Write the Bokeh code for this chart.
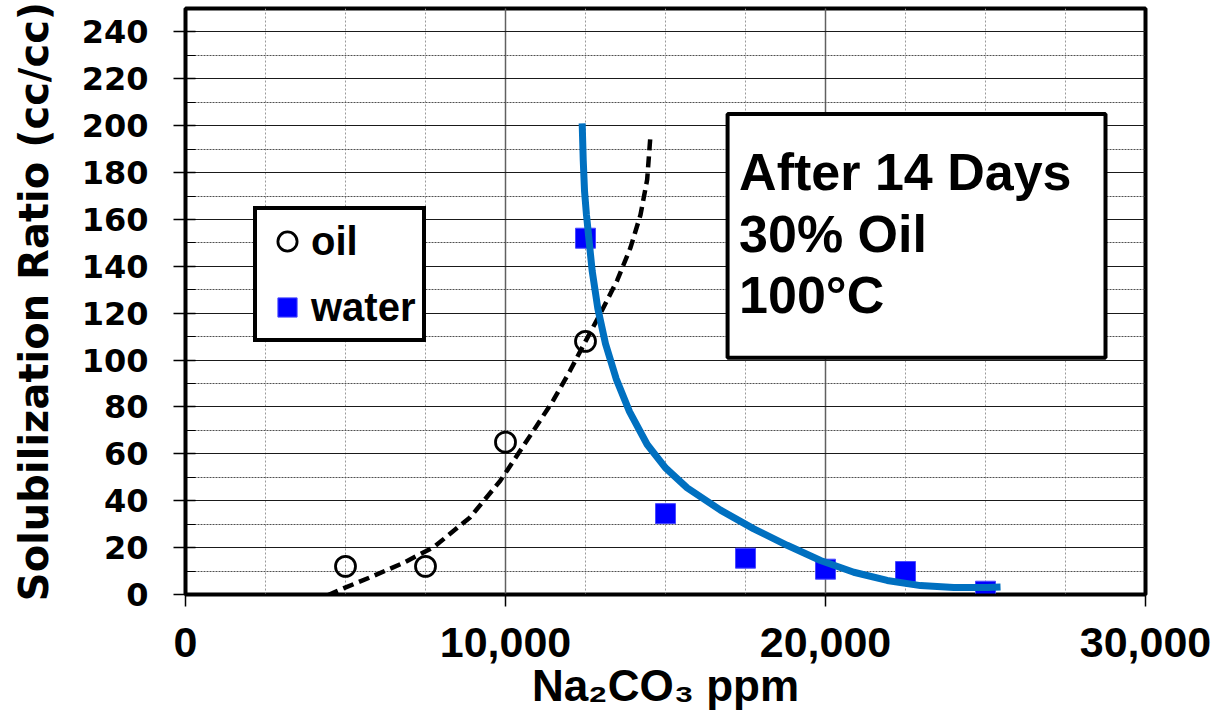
from bokeh.plotting import figure
from bokeh.models import (Range1d, SingleIntervalTicker, NumeralTickFormatter,
                          Legend, LegendItem, BoxAnnotation, Label, ColumnDataSource)
from bokeh.embed import file_html
from bokeh.resources import INLINE

# ---- data ----
oil_x = [5000, 7500, 10000, 12500]
oil_y = [12, 12, 65, 108]

water_x = [12500, 15000, 17500, 20000, 22500, 25000]
water_y = [152, 34.5, 15.5, 10.8, 9.8, 1.4]

oil_trend_x = [3960, 4740, 5800, 6810, 7760, 8900, 9840, 10880, 11500, 12000,
               12500, 12970, 13490, 13906, 14219, 14427, 14531]
oil_trend_y = [-3.3, 1.5, 7.5, 13.5, 20.2, 33, 48.6, 70, 83, 95,
               108, 120, 134, 148, 162, 177, 196]

water_trend_x = [12396, 12430, 12470, 12530, 12604, 12709, 12885, 13125, 13459,
                 13875, 14427, 15000, 15677, 16719, 17760, 18802, 19844, 20885,
                 21927, 22969, 24010, 25052, 25470]
water_trend_y = [201, 185, 172, 162, 152, 138, 122, 107, 92,
                 78, 64, 54, 45.5, 36, 28, 21, 14.5, 9.5,
                 6, 3.8, 3.0, 3.0, 3.2]

x_title = "Na\u2082CO\u2083 ppm"
y_title = "Solubilization Ratio (cc/cc)"
series_names = ["oil", "water"]
note_lines = ["After 14 Days", "30% Oil", "100\u00b0C"]

# ---- figure ----
p = figure(width=1225, height=723, output_backend="svg", toolbar_location=None,
           x_range=Range1d(0, 30000), y_range=Range1d(0, 250),
           min_border_left=185, min_border_right=80, min_border_top=8,
           min_border_bottom=129)
p.background_fill_color = "white"
p.border_fill_color = "white"
p.outline_line_color = "black"
p.outline_line_width = 4
p.outline_line_alpha = 1

xt = SingleIntervalTicker(interval=10000, num_minor_ticks=4)
yt = SingleIntervalTicker(interval=20, num_minor_ticks=2)
p.xaxis.ticker = xt
p.yaxis.ticker = yt
p.xgrid.ticker = xt
p.ygrid.ticker = yt

p.xgrid.grid_line_color = "#606060"
p.xgrid.grid_line_width = 1.5
p.xgrid.grid_line_alpha = 1
p.xgrid.minor_grid_line_color = "#9a9a9a"
p.xgrid.minor_grid_line_dash = "2 2"
p.xgrid.minor_grid_line_width = 1
p.ygrid.grid_line_color = "#1a1a1a"
p.ygrid.grid_line_width = 1.2
p.ygrid.grid_line_alpha = 1
p.ygrid.minor_grid_line_color = "#505050"
p.ygrid.minor_grid_line_dash = "2 1"
p.ygrid.minor_grid_line_width = 1

p.xaxis.formatter = NumeralTickFormatter(format="0,0")
for ax in (p.xaxis, p.yaxis):
    ax.axis_line_color = "black"
    ax.axis_line_width = 2
    ax.major_tick_line_color = "black"
    ax.major_tick_line_width = 1.5
    ax.major_tick_out = 12
    ax.major_label_text_font_style = "bold"
    ax.major_label_text_color = "black"
    ax.axis_label_text_font_style = "bold"
    ax.axis_label_text_color = "black"

p.xaxis.major_tick_in = 0
p.xaxis.minor_tick_line_color = None
p.xaxis.major_label_text_font = "Liberation Sans"
p.xaxis.major_label_text_font_size = "43px"
p.xaxis.major_label_standoff = 21
p.xaxis.axis_label = x_title
p.xaxis.axis_label_text_font = "Liberation Sans"
p.xaxis.axis_label_text_font_size = "44px"
p.xaxis.axis_label_standoff = 1

p.yaxis.major_tick_in = 10
p.yaxis.minor_tick_in = 10
p.yaxis.minor_tick_out = 0
p.yaxis.minor_tick_line_color = "black"
p.yaxis.major_label_text_font = "DejaVu Sans"
p.yaxis.major_label_text_font_size = "32px"
p.yaxis.major_label_standoff = 25
p.yaxis.axis_label = y_title
p.yaxis.axis_label_text_font = "DejaVu Sans"
p.yaxis.axis_label_text_font_size = "40px"
p.yaxis.axis_label_standoff = 22

# ---- glyphs ----
oil_src = ColumnDataSource(dict(x=oil_x, y=oil_y))
water_src = ColumnDataSource(dict(x=water_x, y=water_y))

r_oil = p.scatter("x", "y", source=oil_src, marker="circle", size=20,
                  line_color="black", line_width=2.8, fill_alpha=0)
r_water = p.scatter("x", "y", source=water_src, marker="square", size=20,
                    fill_color="#0000FF", line_color="#4a4aff", line_width=1)

p.line(oil_trend_x, oil_trend_y, line_color="black", line_width=4.5,
       line_dash="11 6")
p.line(water_trend_x, water_trend_y, line_color="#0070C0", line_width=7)

# ---- legend ----
legend = Legend(items=[LegendItem(label=series_names[0], renderers=[r_oil]),
                       LegendItem(label=series_names[1], renderers=[r_water])],
                location=(68, 252), orientation="vertical",
                glyph_width=48, glyph_height=50, spacing=16, padding=6,
                margin=0, label_standoff=-4,
                label_text_font="Liberation Sans", label_text_font_style="bold",
                label_text_font_size="40px", label_text_color="black",
                border_line_color="black", border_line_width=4,
                border_line_alpha=1,
                background_fill_color="white", background_fill_alpha=1)
p.add_layout(legend, "center")

# ---- text box ----
box = BoxAnnotation(left=16940, right=28750, bottom=101, top=205,
                    fill_color="white", fill_alpha=1,
                    line_color="black", line_width=4, line_alpha=1)
p.add_layout(box)
for line_text, yb in zip(note_lines, [180.4, 154.0, 127.9]):
    p.add_layout(Label(x=17300, y=yb, text=line_text,
                       text_font="Liberation Sans", text_font_style="bold",
                       text_font_size="52px", text_color="black",
                       text_baseline="alphabetic", text_align="left"))

open("out.html", "w").write(file_html(p, INLINE))
